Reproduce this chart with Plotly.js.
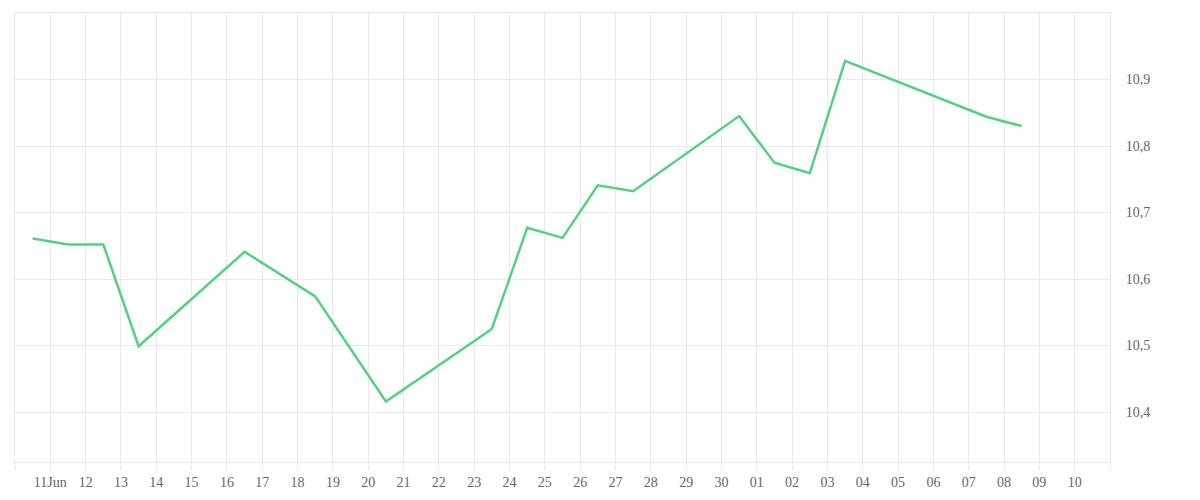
<!DOCTYPE html>
<html>
<head>
<meta charset="utf-8">
<script src="https://cdn.plot.ly/plotly-3.0.1.min.js"></script>
<style>
  html, body { margin: 0; padding: 0; background: #ffffff; }
  #chart { width: 1200px; height: 500px; }
</style>
</head>
<body>
<div id="chart"></div>
<script>
// Data
const dates = [
  '2023-06-10 12:00', '2023-06-11 12:00', '2023-06-12 12:00', '2023-06-13 12:00',
  '2023-06-16 12:00', '2023-06-18 12:00', '2023-06-20 12:00', '2023-06-23 12:00',
  '2023-06-24 12:00', '2023-06-25 12:00', '2023-06-26 12:00', '2023-06-27 12:00',
  '2023-06-30 12:00', '2023-07-01 12:00', '2023-07-02 12:00', '2023-07-03 12:00',
  '2023-07-07 12:00', '2023-07-08 12:00'
];
const values = [
  10.661, 10.652, 10.652, 10.499,
  10.641, 10.574, 10.416, 10.525,
  10.677, 10.662, 10.741, 10.732,
  10.845, 10.775, 10.759, 10.928,
  10.844, 10.830
];

// Tick labels
const xTickDates = [
  '2023-06-10', '2023-06-11', '2023-06-12', '2023-06-13', '2023-06-14', '2023-06-15',
  '2023-06-16', '2023-06-17', '2023-06-18', '2023-06-19', '2023-06-20', '2023-06-21',
  '2023-06-22', '2023-06-23', '2023-06-24', '2023-06-25', '2023-06-26', '2023-06-27',
  '2023-06-28', '2023-06-29', '2023-06-30', '2023-07-01', '2023-07-02', '2023-07-03',
  '2023-07-04', '2023-07-05', '2023-07-06', '2023-07-07', '2023-07-08', '2023-07-09',
  '2023-07-10', '2023-07-11'
];
const xTickLabels = [
  '', '11Jun', '12', '13', '14', '15',
  '16', '17', '18', '19', '20', '21',
  '22', '23', '24', '25', '26', '27',
  '28', '29', '30', '01', '02', '03',
  '04', '05', '06', '07', '08', '09',
  '10', ''
];
const yTickValues = [10.4, 10.5, 10.6, 10.7, 10.8, 10.9];
const yTickLabels = ['10,4', '10,5', '10,6', '10,7', '10,8', '10,9'];

const gridColor = '#e9e9e9';
const tickFont = { family: "'Liberation Serif', 'DejaVu Serif', serif", size: 14, color: '#666666' };

const trace = {
  x: dates,
  y: values,
  type: 'scatter',
  mode: 'lines',
  line: { color: '#52d27f', width: 2.5 },
  hoverinfo: 'skip'
};

const layout = {
  width: 1200,
  height: 500,
  margin: { l: 15, r: 90, t: 13, b: 38 },
  paper_bgcolor: '#ffffff',
  plot_bgcolor: '#ffffff',
  showlegend: false,
  separators: ',.',
  font: tickFont,
  xaxis: {
    type: 'date',
    range: ['2023-06-10', '2023-07-11'],
    tickmode: 'array',
    tickvals: xTickDates,
    ticktext: xTickLabels,
    showgrid: true,
    gridcolor: gridColor,
    gridwidth: 1,
    showline: true,
    mirror: true,
    linecolor: gridColor,
    linewidth: 1,
    ticks: 'outside',
    ticklen: 7,
    tickcolor: gridColor,
    tickfont: tickFont,
    zeroline: false,
    fixedrange: true
  },
  yaxis: {
    side: 'right',
    range: [10.325, 11.0],
    tickmode: 'array',
    tickvals: yTickValues,
    ticktext: yTickLabels,
    showgrid: true,
    gridcolor: gridColor,
    gridwidth: 1,
    showline: true,
    mirror: true,
    linecolor: gridColor,
    linewidth: 1,
    ticks: 'outside',
    ticklen: 12,
    tickcolor: 'rgba(0,0,0,0)',
    tickfont: tickFont,
    zeroline: false,
    fixedrange: true
  }
};

Plotly.newPlot('chart', [trace], layout, { displayModeBar: false, staticPlot: true });
</script>
</body>
</html>
